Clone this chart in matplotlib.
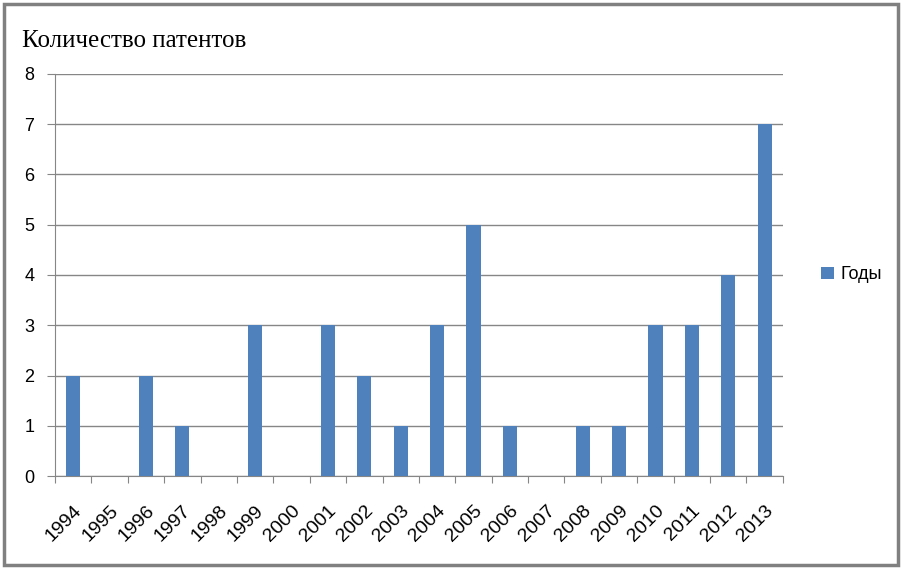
import matplotlib.pyplot as plt
from matplotlib.patches import Rectangle
import numpy as np

# Data
years = ['1994', '1995', '1996', '1997', '1998', '1999', '2000', '2001', '2002', '2003',
         '2004', '2005', '2006', '2007', '2008', '2009', '2010', '2011', '2012', '2013']
patents = [2, 0, 2, 1, 0, 3, 0, 3, 2, 1, 3, 5, 1, 0, 1, 1, 3, 3, 4, 7]
y_ticks = [0, 1, 2, 3, 4, 5, 6, 7, 8]

BAR_COLOR = '#4f81bd'
GRID_COLOR = '#868686'

fig = plt.figure(figsize=(9.03, 5.69), dpi=100)
ax = fig.add_axes([0.0609, 0.1634, 0.806, 0.7066])

x = np.arange(len(years))
ax.bar(x, patents, width=0.39, color=BAR_COLOR, label='Годы', zorder=3)

ax.set_xlim(-0.5, len(years) - 0.5)
ax.set_ylim(0, 8)
ax.set_yticks(y_ticks)
ax.set_yticklabels([str(v) for v in y_ticks], fontsize=13, family='Liberation Sans')

# category ticks sit between bars, labels under bars
ax.set_xticks(np.arange(-0.5, len(years), 1.0))
ax.set_xticklabels([])
ax.set_xticks(x, minor=True)
ax.set_xticklabels(years, minor=True, rotation=45, ha='right', va='top',
                   rotation_mode='anchor', fontsize=14, family='Liberation Sans')
ax.tick_params(axis='x', which='major', length=5, color=GRID_COLOR, direction='out')
ax.tick_params(axis='x', which='minor', length=0, pad=19)
ax.tick_params(axis='y', length=6, color=GRID_COLOR, direction='out', pad=9)

ax.yaxis.grid(True, color=GRID_COLOR, linewidth=1, zorder=0)
ax.set_axisbelow(True)
for side in ['top', 'right']:
    ax.spines[side].set_visible(False)
for side in ['left', 'bottom']:
    ax.spines[side].set_color(GRID_COLOR)

fig.text(0.024, 0.918, 'Количество патентов', fontsize=18, family='Liberation Serif',
         ha='left', va='baseline')

ax.legend(loc='center left', bbox_to_anchor=(1.03, 0.5), frameon=False,
          prop={'family': 'Liberation Sans', 'size': 13},
          handlelength=0.7, handleheight=0.7, handletextpad=0.4)

# chart border
fig.patches.append(Rectangle((0.004, 0.007), 0.99, 0.986, transform=fig.transFigure,
                             fill=False, edgecolor='#808080', linewidth=2.5))

fig.savefig('out.png', dpi=100)
